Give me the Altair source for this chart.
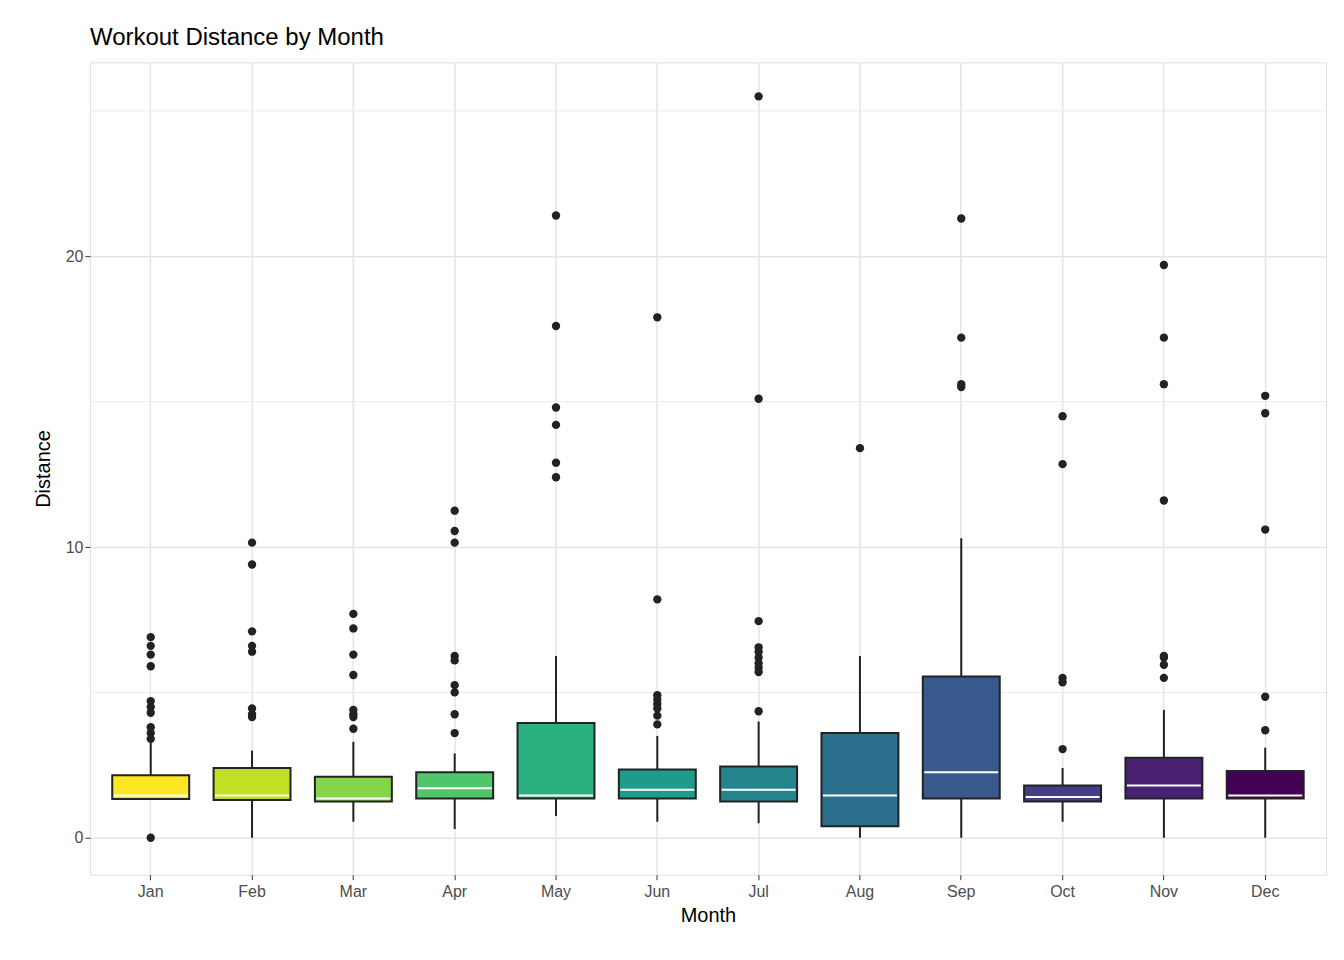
import altair as alt
import pandas as pd

months = ["Jan","Feb","Mar","Apr","May","Jun","Jul","Aug","Sep","Oct","Nov","Dec"]
q1 = [1.33,1.3,1.25,1.35,1.35,1.35,1.25,0.4,1.35,1.25,1.35,1.35]
med = [1.45,1.45,1.35,1.7,1.45,1.65,1.65,1.45,2.25,1.4,1.8,1.45]
q3 = [2.15,2.4,2.1,2.25,3.95,2.35,2.45,3.6,5.55,1.8,2.75,2.3]
wlo = [1.3,0.0,0.55,0.3,0.75,0.55,0.5,0.0,0.0,0.55,0.0,0.0]
whi = [3.3,3.0,3.3,2.9,6.25,3.5,4.0,6.25,10.3,2.4,4.4,3.1]
outliers = {
 "Jan":[6.9,6.6,6.3,5.9,4.7,4.5,4.3,3.8,3.6,3.4,0.0],
 "Feb":[10.15,9.4,7.1,6.6,6.4,4.45,4.25,4.15],
 "Mar":[7.7,7.2,6.3,5.6,4.4,4.25,4.15,3.75],
 "Apr":[11.25,10.55,10.15,6.25,6.1,5.25,5.0,4.25,3.6],
 "May":[21.4,17.6,14.8,14.2,12.9,12.4],
 "Jun":[17.9,8.2,4.9,4.75,4.6,4.45,4.2,3.9],
 "Jul":[25.5,15.1,7.45,6.55,6.4,6.2,6.0,5.85,5.7,4.35],
 "Aug":[13.4],
 "Sep":[21.3,17.2,15.6,15.5],
 "Oct":[14.5,12.85,5.5,5.35,3.05],
 "Nov":[19.7,17.2,15.6,11.6,6.25,6.2,5.95,5.5],
 "Dec":[15.2,14.6,10.6,4.85,3.7],
}
colors = ["#FDE725","#C2DF23","#85D54A","#51C56A","#2BB07F","#1E9B8A",
          "#25858E","#2D708E","#38598C","#433E85","#482173","#440154"]
minor = [5, 15, 25]

box = pd.DataFrame({"Month":months,"q1":q1,"med":med,"q3":q3,"wlo":wlo,"whi":whi})
out = pd.DataFrame([{"Month":m,"v":v} for m,vs in outliers.items() for v in vs])
mg = pd.DataFrame({"y":minor})

xs = alt.Scale(domain=months, paddingInner=0, paddingOuter=0.1)
ys = alt.Scale(domain=[-1.27,26.67], nice=False, zero=False)
xax = alt.Axis(title="Month", labelAngle=0, grid=True, bandPosition=0.5, gridColor="#E5E5E5", gridWidth=1.5,
               labelFontSize=16, labelColor="#4D4D4D", titleFontSize=20, titleFontWeight="normal",
               titleColor="black", tickColor="#333333", domain=False, labelPadding=4, titlePadding=6)
yax = alt.Axis(title="Distance", values=[0,10,20], grid=True, gridColor="#E5E5E5", gridWidth=1.5,
               labelFontSize=16, labelColor="#4D4D4D", titleFontSize=20, titleFontWeight="normal",
               titleColor="black", tickColor="#333333", domain=False, titlePadding=12)

x = alt.X("Month:N", scale=xs, axis=xax)
base = alt.Chart(box)

minor_l = alt.Chart(mg).mark_rule(color="#EBEBEB", strokeWidth=1).encode(
    y=alt.Y("y:Q", scale=ys, axis=yax))
whisk = base.mark_rule(color="#222222", strokeWidth=2).encode(
    x=x, y=alt.Y("wlo:Q", scale=ys, axis=yax), y2="whi:Q")
bars = base.mark_bar(size=77, stroke="#222222", strokeWidth=2, opacity=1, fillOpacity=1).encode(
    x=x, y=alt.Y("q1:Q", scale=ys, axis=yax), y2="q3:Q",
    color=alt.Color("Month:N", scale=alt.Scale(domain=months, range=colors), legend=None))
meds = base.mark_tick(size=74, thickness=2, color="white", opacity=1).encode(
    x=x, y=alt.Y("med:Q", scale=ys, axis=yax))
pts = alt.Chart(out).mark_circle(size=70, color="#222222", opacity=1).encode(
    x=x, y=alt.Y("v:Q", scale=ys, axis=yax))

chart = alt.layer(minor_l, whisk, bars, meds, pts).properties(
    width=1237, height=813,
    title=alt.TitleParams("Workout Distance by Month", anchor="start", frame="group", fontSize=24,
                          fontWeight="normal", color="black", offset=12),
    autosize=alt.AutoSizeParams(type="none"),
    padding={"left":82,"top":54,"right":10,"bottom":80},
).configure_view(stroke="#333333", strokeWidth=1.2).configure(font="Liberation Sans")

chart.save("out.html", embed_options={"renderer": "svg", "actions": False})
